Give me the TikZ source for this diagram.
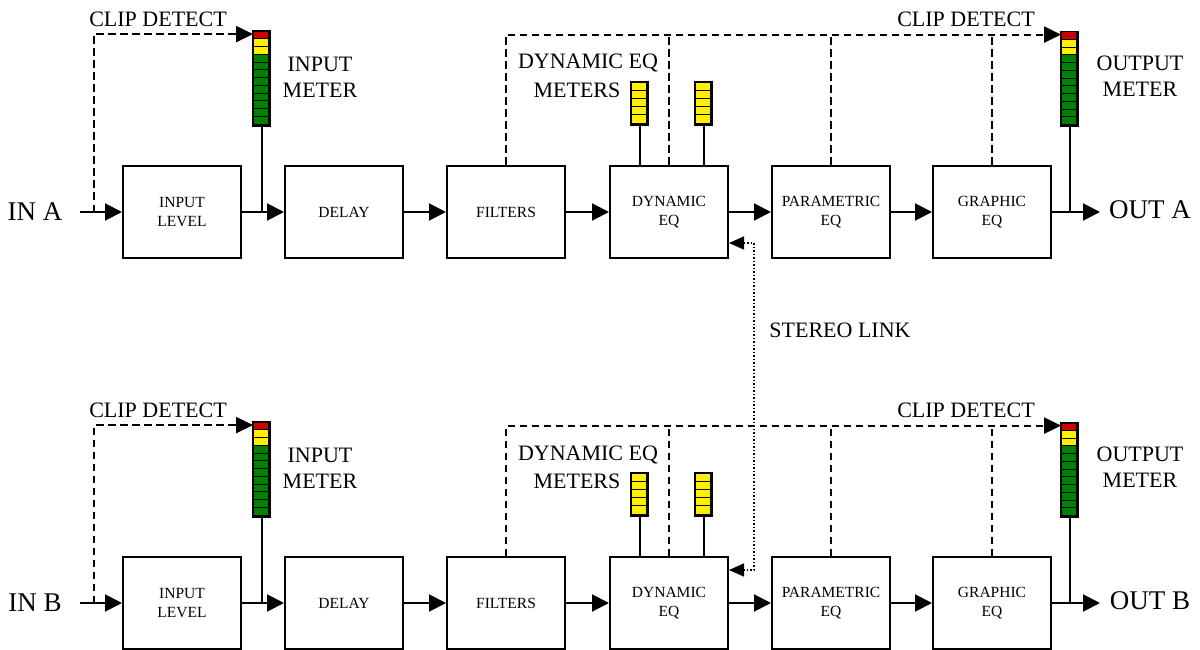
\documentclass[tikz,border=0pt]{standalone}
\usepackage{fontspec}
\setmainfont{Liberation Serif}
\usetikzlibrary{arrows.meta,calc}
\definecolor{mred}{RGB}{204,0,0}
\definecolor{myel}{RGB}{255,240,0}
\definecolor{mgrn}{RGB}{0,128,0}
\begin{document}
\begin{tikzpicture}[x=1pt,y=-1pt,
  blk/.style={draw,line width=2pt,minimum width=118pt,minimum height=92pt,inner sep=0pt,align=center,font=\fontsize{15.5}{19}\selectfont},
  lbl/.style={align=center,font=\fontsize{22}{26}\selectfont,inner sep=0pt},
  io/.style={font=\fontsize{27}{30}\selectfont,inner sep=0pt},
  flow/.style={line width=2pt,-{Triangle[length=17pt,width=17pt]}},
  plain/.style={line width=2pt},
  dsh/.style={line width=2pt,dash pattern=on 7.5pt off 4.5pt},
  dsharrow/.style={dsh,-{Triangle[length=17pt,width=16pt]}},
  slink/.style={line width=1.5pt,dotted,{Triangle[length=15pt,width=13pt]}-{Triangle[length=15pt,width=13pt]}},
  meterbox/.style={draw,line width=1.8pt,inner sep=0pt,minimum width=15pt}
]
\useasboundingbox (0,0) rectangle (1200,650);
\foreach \r/\oy in {A/0,B/391}{
  \node[blk] (lvl\r) at (182,\oy+212) {INPUT\\LEVEL};
  \node[blk] (del\r) at (344,\oy+212) {DELAY};
  \node[blk] (fil\r) at (506,\oy+212) {FILTERS};
  \node[blk] (dyn\r) at (669,\oy+212) {DYNAMIC\\EQ};
  \node[blk] (par\r) at (831,\oy+212) {PARAMETRIC\\EQ};
  \node[blk] (gra\r) at (992,\oy+212) {GRAPHIC\\EQ};
  \node[io] (in\r) at (35,\oy+212) {IN \r};
  \node[io] (out\r) at (1150,\oy+210) {OUT \r};
  \node[meterbox,minimum height=93pt] (mIn\r) at (261.5,\oy+78.5) {};
  \node[meterbox,minimum height=93pt] (mOut\r) at (1069.5,\oy+79) {};
  \node[meterbox,minimum height=41pt] (dmA\r) at (639.5,\oy+103.5) {};
  \node[meterbox,minimum height=41pt] (dmB\r) at (703.5,\oy+103.5) {};
  \node[lbl] (cdi\r) at (158,\oy+19) {CLIP DETECT};
  \node[lbl] (cdo\r) at (966,\oy+19) {CLIP DETECT};
  \node[lbl] (imt\r) at (320,\oy+77) {INPUT\\METER};
  \node[lbl] (omt\r) at (1140,\oy+76) {OUTPUT\\METER};
  \node[lbl] (dq\r) at (588,\oy+63.5) {DYNAMIC EQ};
  \node[lbl] (dqm\r) at (577,\oy+90) {METERS};
  \foreach \m in {mIn\r,mOut\r}{
    \foreach \i in {0,...,11}{
      \ifnum\i=0 \def\col{mred}\else\ifnum\i<3 \def\col{myel}\else\def\col{mgrn}\fi\fi
      \draw[fill=\col,line width=1pt] ($(\m.north west)+(0,\i*7.75)$) rectangle ++(15,7.75);
    }
    \draw[line width=1.8pt] (\m.north west) rectangle (\m.south east);
  }
  \foreach \m in {dmA\r,dmB\r}{
    \foreach \i in {0,...,4}{
      \draw[fill=myel,line width=1pt] ($(\m.north west)+(0,\i*8.2)$) rectangle ++(15,8.2);
    }
    \draw[line width=1.8pt] (\m.north west) rectangle (\m.south east);
  }
  \coordinate (s\r) at (80,\oy+212);
  \coordinate (j\r) at (94,\oy+212);
  \coordinate (t\r) at (0,\oy+35);
  \coordinate (e\r) at (1100,\oy+212);
  \draw[flow] (s\r) -- (lvl\r.west);
  \draw[flow] (lvl\r.east) -- (del\r.west);
  \draw[flow] (del\r.east) -- (fil\r.west);
  \draw[flow] (fil\r.east) -- (dyn\r.west);
  \draw[flow] (dyn\r.east) -- (par\r.west);
  \draw[flow] (par\r.east) -- (gra\r.west);
  \draw[flow] (gra\r.east) -- (e\r);
  \draw[plain] (mIn\r.south) -- (mIn\r.south |- lvl\r.east);
  \draw[plain] (mOut\r.south) -- (mOut\r.south |- gra\r.east);
  \draw[plain] (dmA\r.south) -- (dmA\r.south |- dyn\r.north);
  \draw[plain] (dmB\r.south) -- (dmB\r.south |- dyn\r.north);
  \draw[dsharrow] (j\r) |- ([yshift=-3pt]mIn\r.north west);
  \draw[dsharrow] (fil\r.north) |- ([yshift=-3pt]mOut\r.north west);
  \draw[dsh] (dyn\r.north) -- (dyn\r.north |- t\r);
  \draw[dsh] (par\r.north) -- (par\r.north |- t\r);
  \draw[dsh] (gra\r.north) -- (gra\r.north |- t\r);
}
\node[lbl] (sl) at (840,330) {STEREO LINK};
\draw[slink] ($(dynA.east)+(0,31)$) -- ++(25,0) |- ($(dynB.east)+(0,-33)$);
\end{tikzpicture}
\end{document}
